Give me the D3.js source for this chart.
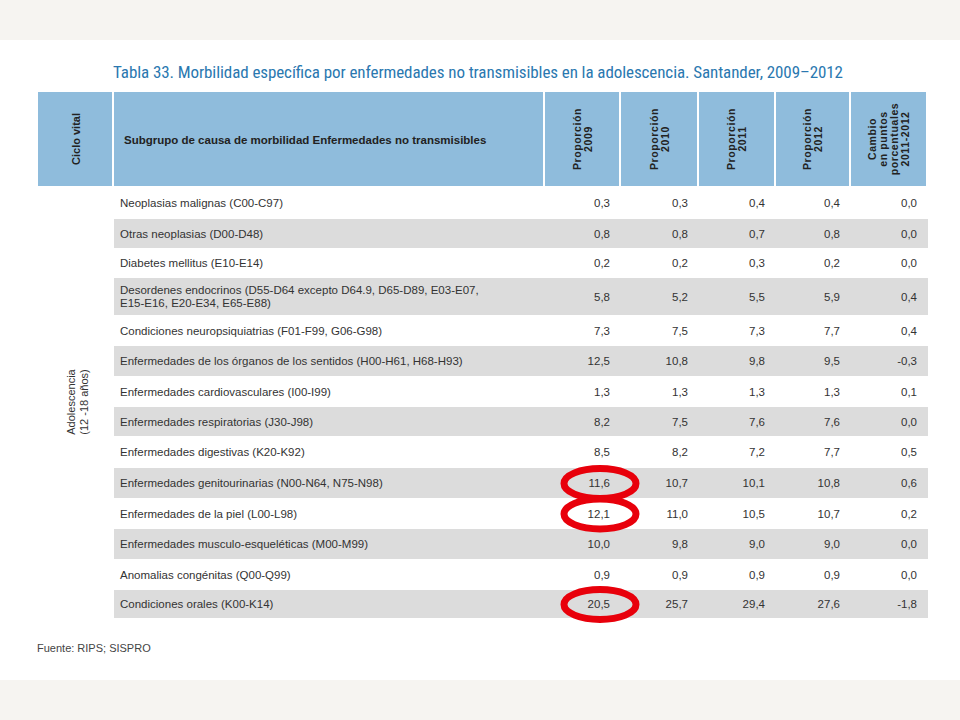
<!DOCTYPE html>
<html><head><meta charset="utf-8">
<script src="https://cdn.jsdelivr.net/npm/d3@7"></script>
<style>body{margin:0;background:#fff}</style>
</head><body><div id="viz"></div>
<script>
// data
const causes=["Neoplasias malignas (C00-C97)","Otras neoplasias (D00-D48)","Diabetes mellitus (E10-E14)",
 "Desordenes endocrinos (D55-D64 excepto D64.9, D65-D89, E03-E07,|E15-E16, E20-E34, E65-E88)",
 "Condiciones neuropsiquiatrias (F01-F99, G06-G98)","Enfermedades de los órganos de los sentidos (H00-H61, H68-H93)",
 "Enfermedades cardiovasculares (I00-I99)","Enfermedades respiratorias (J30-J98)","Enfermedades digestivas (K20-K92)",
 "Enfermedades genitourinarias (N00-N64, N75-N98)","Enfermedades de la piel (L00-L98)",
 "Enfermedades musculo-esqueléticas (M00-M99)","Anomalias congénitas (Q00-Q99)","Condiciones orales (K00-K14)"];
const p2009=["0,3","0,8","0,2","5,8","7,3","12,5","1,3","8,2","8,5","11,6","12,1","10,0","0,9","20,5"];
const p2010=["0,3","0,8","0,2","5,2","7,5","10,8","1,3","7,5","8,2","10,7","11,0","9,8","0,9","25,7"];
const p2011=["0,4","0,7","0,3","5,5","7,3","9,8","1,3","7,6","7,2","10,1","10,5","9,0","0,9","29,4"];
const p2012=["0,4","0,8","0,2","5,9","7,7","9,5","1,3","7,6","7,7","10,8","10,7","9,0","0,9","27,6"];
const cambio=["0,0","0,0","0,0","0,4","0,4","-0,3","0,1","0,0","0,5","0,6","0,2","0,0","0,0","-1,8"];
const headers=[["Proporción","2009"],["Proporción","2010"],["Proporción","2011"],["Proporción","2012"],["Cambio","en puntos","porcentuales","2011-2012"]];
const highlighted=[9,10,13];
const rowHeights=[31,30,29,38,30,31,30,30,31,31,30,31,30,29];

const W=960,H=720;
const svg=d3.select("#viz").append("svg").attr("width",W).attr("height",H);
svg.append("rect").attr("width",W).attr("height",H).attr("fill","#fff");
svg.append("rect").attr("width",W).attr("height",40).attr("fill","#f6f4f1");
svg.append("rect").attr("y",680).attr("width",W).attr("height",40).attr("fill","#f6f4f1");

svg.append("text").attr("x",113).attr("y",78).attr("fill","#2a78b0").attr("font-family","Liberation Sans Narrow, Roboto Condensed, Liberation Sans")
 .attr("font-size",17).attr("textLength",730).text("Tabla 33. Morbilidad específica por enfermedades no transmisibles en la adolescencia. Santander, 2009–2012");

// columns
const colEdges=[545,621,699,776,851,928];
const hy0=92,hy1=186,hc="#8fbcdc";
svg.append("rect").attr("x",38).attr("y",hy0).attr("width",74).attr("height",hy1-hy0).attr("fill",hc);
svg.append("rect").attr("x",114).attr("y",hy0).attr("width",429).attr("height",hy1-hy0).attr("fill",hc);
colEdges.slice(0,5).forEach((x,i)=>svg.append("rect").attr("x",x).attr("y",hy0).attr("width",colEdges[i+1]-x-2).attr("height",hy1-hy0).attr("fill",hc));
const hf="Liberation Sans, Arial";
svg.append("text").attr("transform","translate(80,139) rotate(-90)").attr("text-anchor","middle").attr("font-family",hf)
 .attr("font-weight","bold").attr("font-size",11).attr("fill","#222").text("Ciclo vital");
svg.append("text").attr("x",124).attr("y",144).attr("font-family",hf).attr("font-weight","bold").attr("font-size",11.5).attr("fill","#222")
 .text("Subgrupo de causa de morbilidad Enfermedades no transmisibles");
headers.forEach((h,i)=>{
  const cx=(colEdges[i]+colEdges[i+1]-2)/2;
  const t=svg.append("text").attr("transform",`translate(${cx},139) rotate(-90)`).attr("text-anchor","middle")
   .attr("font-family",hf).attr("font-weight","bold").attr("font-size",10.5).attr("fill","#222").attr("letter-spacing",0.6);
  h.forEach((s,j)=>t.append("tspan").attr("x",0).attr("dy",j==0?(-(h.length-1)*11/2+4):11).text(s));
});

// rows
let y=188;const rowY=[];
rowHeights.forEach(h=>{rowY.push(y);y+=h;});
const g=svg.append("g");
causes.forEach((c,i)=>{
  const y0=rowY[i],h=rowHeights[i]-1;
  if(i%2==1) g.append("rect").attr("x",114).attr("y",y0).attr("width",814).attr("height",h).attr("fill","#dcdcdc");
  const lines=c.split("|");
  const t=g.append("text").attr("x",120).attr("y",y0+h/2+4-(lines.length-1)*6.5).attr("font-family","Liberation Sans Narrow, Liberation Sans")
   .attr("font-size",11.5).attr("fill","#333");
  lines.forEach((s,j)=>t.append("tspan").attr("x",120).attr("dy",j?13:0).text(s));
  [p2009,p2010,p2011,p2012,cambio].forEach((arr,k)=>{
    g.append("text").attr("x",colEdges[k+1]-11).attr("y",y0+h/2+4).attr("text-anchor","end")
     .attr("font-family","Liberation Sans Narrow, Liberation Sans").attr("font-size",11.5).attr("fill","#333").text(arr[i]);
  });
});
highlighted.forEach(i=>{
  g.append("ellipse").attr("cx",600).attr("cy",rowY[i]+rowHeights[i]/2).attr("rx",36).attr("ry",15)
   .attr("fill","none").attr("stroke","#e8000b").attr("stroke-width",7);
});
svg.append("text").attr("transform","translate(75,402) rotate(-90)").attr("text-anchor","middle").attr("font-family",hf)
 .attr("font-size",11).attr("fill","#333").text("Adolescencia");
svg.append("text").attr("transform","translate(88,402) rotate(-90)").attr("text-anchor","middle").attr("font-family",hf)
 .attr("font-size",11).attr("fill","#333").text("(12 -18 años)");
svg.append("text").attr("x",37).attr("y",652).attr("font-family","Liberation Sans Narrow, Liberation Sans").attr("font-size",11).attr("fill","#444").text("Fuente: RIPS; SISPRO");
</script></body></html>
